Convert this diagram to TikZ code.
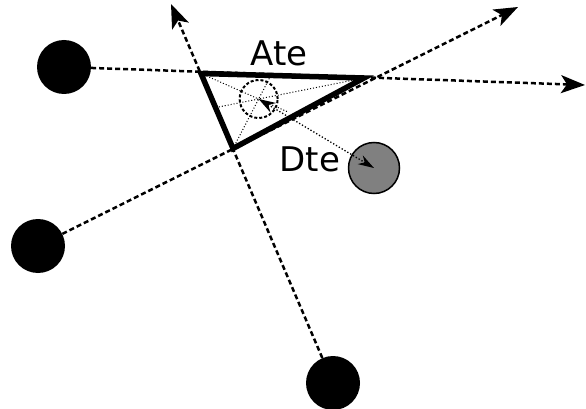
\documentclass[tikz,border=0pt]{standalone}
\usepackage{fontspec}
\setmainfont{DejaVu Sans}
\usetikzlibrary{arrows.meta,calc}
\tikzset{
  blob/.style={circle,fill=black,minimum size=54pt,inner sep=0pt},
  ray/.style={line width=2.5pt,dash pattern=on 5pt off 3pt,-{Stealth[length=24pt,width=18pt,inset=6pt]}},
  median/.style={line width=1pt,dotted},
  lbl/.style={font=\fontsize{34}{34}\selectfont,anchor=base,inner sep=0pt},
}
\begin{document}
\begin{tikzpicture}[x=1pt,y=-1pt]
\useasboundingbox (0,0) rectangle (586,409);
\node[blob] (tl) at (64,67) {};
\node[blob] (lc) at (38,246) {};
\node[blob] (bc) at (333,383) {};
\node[blob,fill=black!50,draw=black,line width=1.5pt,minimum size=51pt] (tgt) at (374,168) {};
\coordinate (e1) at (585,85);
\coordinate (e2) at (518,7);
\coordinate (e3) at (171,4);
\coordinate (A) at (201,73.5);
\coordinate (B) at (364,78);
\coordinate (C) at (233,148.5);
\coordinate (O) at (barycentric cs:A=1.2,B=0.9,C=1);
\draw[ray] (tl) -- (e1);
\draw[ray] (lc) -- (e2);
\draw[ray] (bc) -- (e3);
\draw[median] (A) -- ($(A)!1.5!(O)$);
\draw[median] (B) -- ($(B)!1.45!(O)$);
\draw[median] (C) -- ($(C)!1.45!(O)$);
\node[circle,draw,line width=2pt,dash pattern=on 3pt off 2pt,minimum size=38pt,inner sep=0pt] (est) at (O) {};
\draw[line width=5.5pt,line join=miter] (A) -- (B) -- (C) -- cycle;
\draw[dotted,line width=1.3pt,{Stealth[length=17pt,width=11pt]}-{Stealth[length=16pt,width=10pt]}] (est.center) -- (tgt.center);
\node[lbl] (ate) at (279,66) {Ate};
\node[lbl] (dte) at (310,171) {Dte};
\end{tikzpicture}
\end{document}
